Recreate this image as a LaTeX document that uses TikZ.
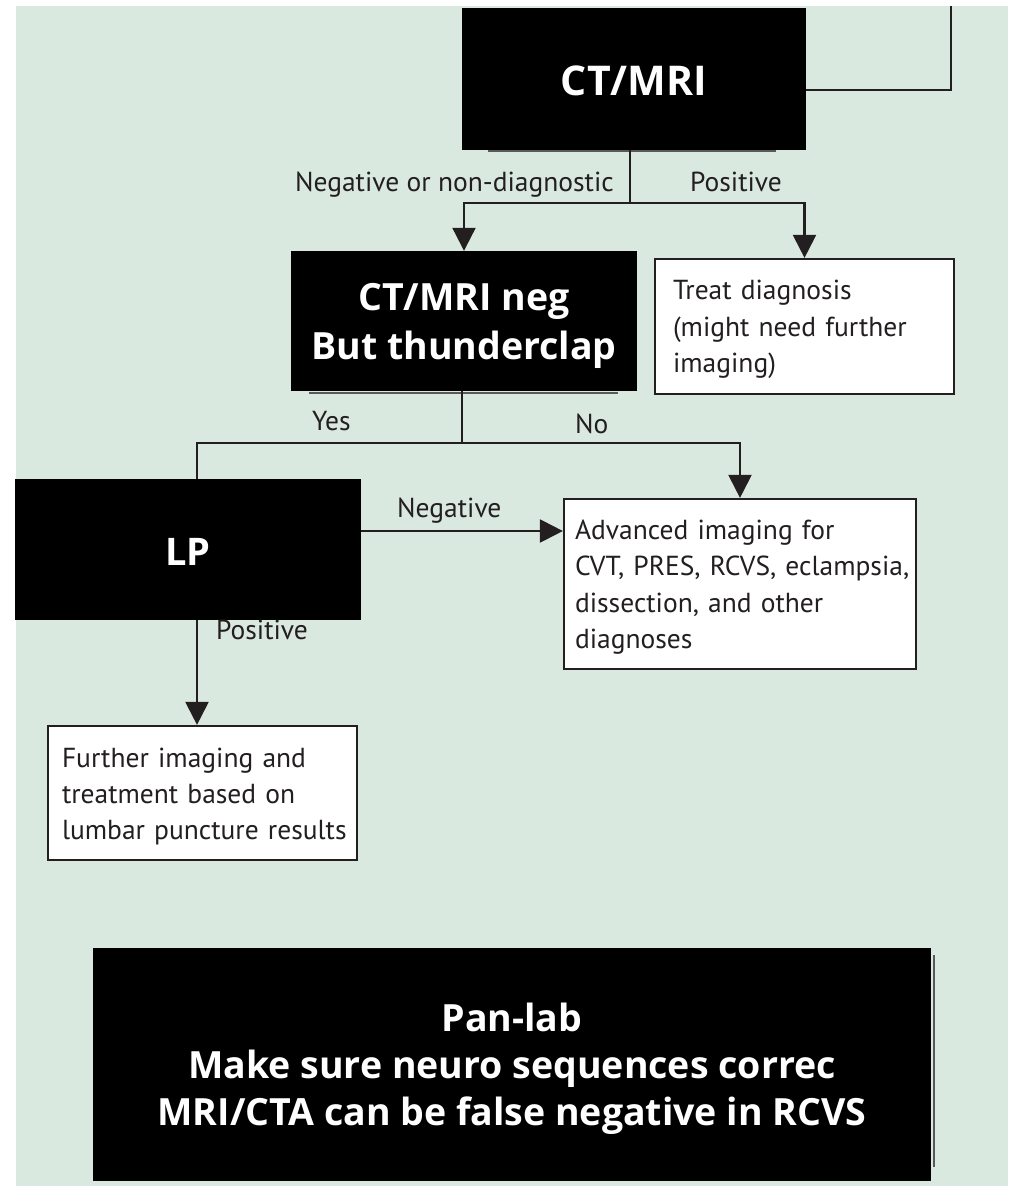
\documentclass[tikz,border=0pt]{standalone}
\usepackage{fontspec}
\setmainfont{PT Sans}
\newfontfamily\boxfont{Open Sans}
\usetikzlibrary{arrows.meta}
\definecolor{panel}{RGB}{218,233,224}
\definecolor{ink}{RGB}{35,31,32}
% invisible rules that fix the height of a first line and the depth of a last line
\newcommand\tall[1]{\rule{0pt}{#1}}
\newcommand\deep[1]{\rule[-#1]{0pt}{#1}}
\begin{document}
\begin{tikzpicture}[x=1pt,y=-1pt,
  blackbox/.style={fill=black, draw=none, text=white, align=center, inner sep=0pt,
    font=\boxfont\bfseries\fontsize{38}{48}\selectfont},
  whitebox/.style={fill=white, draw=ink, line width=2.2pt, align=left, text=ink,
    font=\fontsize{27.5}{36.3}\selectfont},
  lbl/.style={inner sep=0pt, text=ink, font=\fontsize{27.5}{30}\selectfont},
  conn/.style={draw=ink, line width=2.2pt},
  arr/.style={conn, -{Triangle[width=23pt,length=23pt]}},
  ghost/.style={draw=black!65, line width=1.6pt}]
\useasboundingbox (0,0) rectangle (1015,1186);
\fill[white] (0,0) rectangle (1015,1186);
\fill[panel] (16,6) rectangle (1008,1186);

% edges of the boxes lying underneath
\draw[ghost] (488,151) -- (776,151);
\draw[ghost] (309,393) -- (618,393);
\draw[ghost] (934,955) -- (934,1167);

% boxes
\node[blackbox, minimum width=344, minimum height=142, text height=32pt, text depth=0pt,
  font=\boxfont\bfseries\fontsize{41}{48}\selectfont] (ctmri) at (634,79) {CT/MRI};
\node[blackbox, minimum width=346, minimum height=140,
  font=\boxfont\bfseries\fontsize{37.5}{49}\selectfont] (neg) at (464,321)
  {\tall{38pt}CT/MRI neg\\But thunderclap\deep{10pt}};
\node[whitebox, text width=263, inner xsep=18, minimum height=135] (treat) at (804.5,326.5)
  {\mbox{\tall{27pt}Treat diagnosis}\\\mbox{(might need further}\\\mbox{imaging)\deep{8pt}}};
\node[blackbox, minimum width=346, minimum height=141, text height=31pt, text depth=0pt]
  (lp) at (188,549.5) {LP};
\node[whitebox, text width=330, inner xsep=11, minimum height=170] (adv) at (740,584)
  {\mbox{\tall{28pt}Advanced imaging for}\\\mbox{CVT, PRES, RCVS, eclampsia,}\\
   \mbox{dissection, and other}\\\mbox{diagnoses\deep{8pt}}};
\node[whitebox, text width=281, inner xsep=14, minimum height=134] (further) at (202.5,793)
  {\mbox{\tall{29pt}Further imaging and}\\\mbox{treatment based on}\\
   \mbox{lumbar puncture results\deep{8pt}}};
\node[blackbox, minimum width=838, minimum height=233,
  font=\boxfont\bfseries\fontsize{37.5}{47}\selectfont] (note) at (512,1064.5)
  {\tall{37pt}Pan-lab\\Make sure neuro sequences correc\\
   MRI/CTA can be false negative in RCVS\deep{10pt}};

% branch labels
\node[lbl, anchor=base east] (lneg) at (614,191) {Negative or non-diagnostic};
\node[lbl, anchor=base west] (lpos) at (690,191) {Positive};
\node[lbl, anchor=base west] (lyes) at (312,430) {Yes};
\node[lbl, anchor=base west] (lno) at (575,433) {No};
\node[lbl, anchor=base west] (lnegative) at (397,517) {Negative};
\node[lbl, anchor=base west] (lpositive) at (216,639) {Positive};

% connectors
\coordinate (loopturn) at (951,90);
\coordinate (looptop) at (951,6);
\draw[conn] (ctmri.east |- loopturn) -- (loopturn) -- (looptop);

\coordinate (split1) at (630,203);
\draw[conn] (ctmri.south -| split1) -- (split1);
\draw[arr] (split1) -| (neg.north);
\draw[arr] (split1) -| (treat.north);

\coordinate (split2) at (462,443);
\coordinate (lpcol) at (197,0);
\coordinate (negrow) at (0,531);
\draw[conn] (neg.south -| split2) -- (split2);
\draw[conn] (split2) -| (lp.north -| lpcol);
\draw[arr] (split2) -| (adv.north);
\draw[arr] (lp.east |- negrow) -- (adv.west |- negrow);
\draw[arr] (lp.south -| lpcol) -- (further.north -| lpcol);
\end{tikzpicture}
\end{document}
